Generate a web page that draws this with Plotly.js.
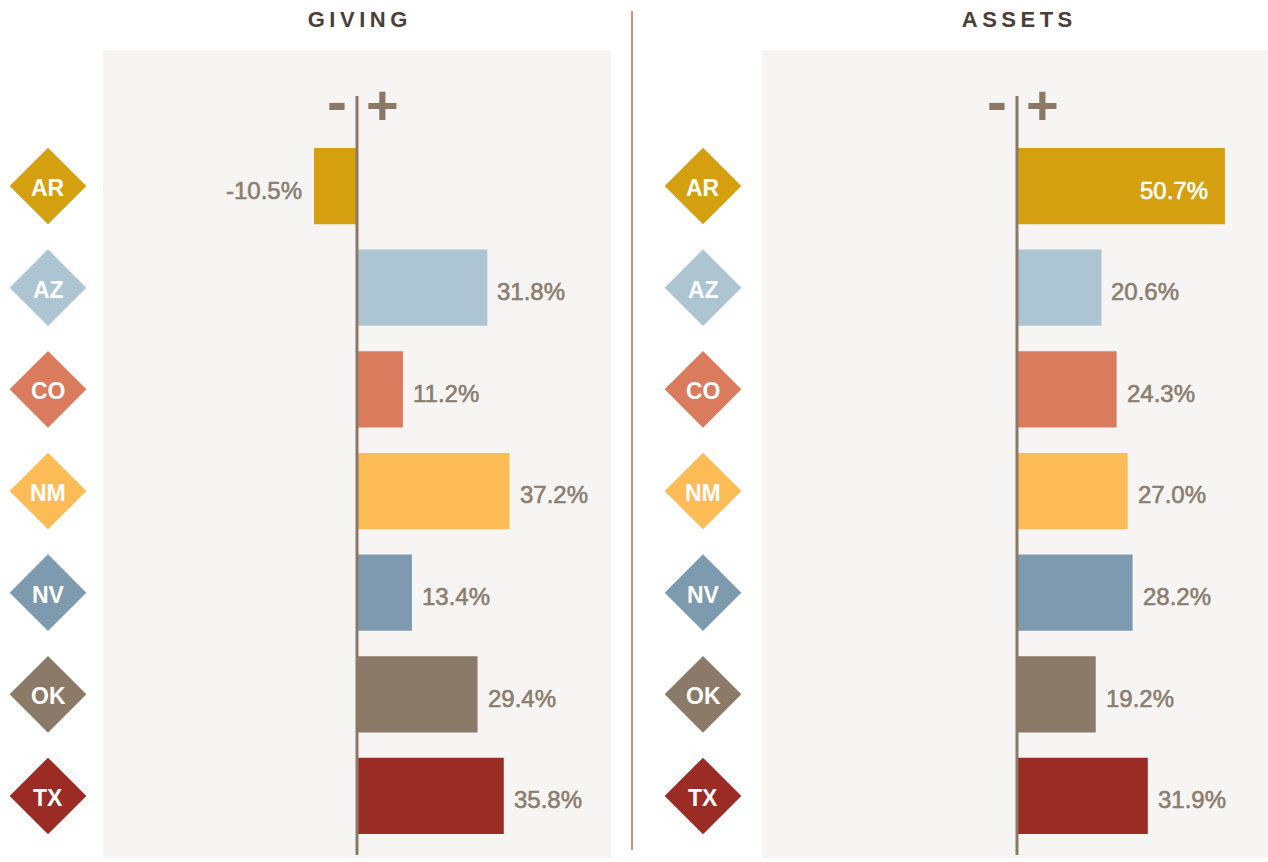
<!DOCTYPE html>
<html>
<head>
<meta charset="utf-8">
<script src="https://cdn.plot.ly/plotly-3.0.1.min.js"></script>
<style>
  html, body { margin: 0; padding: 0; background: #ffffff; }
  #chart { width: 1268px; height: 862px; }
</style>
</head>
<body>
<div id="chart"></div>
<script>
// ---- data ----
const states = ['AR', 'AZ', 'CO', 'NM', 'NV', 'OK', 'TX'];
const givingChange = [-10.5, 31.8, 11.2, 37.2, 13.4, 29.4, 35.8];
const assetsChange = [50.7, 20.6, 24.3, 27.0, 28.2, 19.2, 31.9];
const stateColors = ['#d4a010', '#adc5d3', '#d97b5c', '#fdbc56', '#7e9aae', '#8b7a67', '#9b2b25'];
const panelTitles = ['GIVING', 'ASSETS'];

// ---- style ----
const FONT = '"Liberation Sans", Arial, Helvetica, sans-serif';
const LABEL_COLOR = '#8b7d6f';
const AXIS_COLOR = '#8b7966';
const BG = '#f7f5f3';
const W = 1268, H = 862;
const px = v => v / W;
const py = v => (H - v) / H;

const fmt = v => v.toFixed(1) + '%';

const traces = [
  {
    type: 'bar', orientation: 'h', x: givingChange, y: states,
    xaxis: 'x', yaxis: 'y', width: 0.75,
    marker: { color: stateColors }, hoverinfo: 'none', showlegend: false
  },
  {
    type: 'bar', orientation: 'h', x: assetsChange, y: states,
    xaxis: 'x2', yaxis: 'y', width: 0.75,
    marker: { color: stateColors }, hoverinfo: 'none', showlegend: false
  },
  {
    type: 'scatter', mode: 'markers', x: states.map(() => 0.5), y: states,
    xaxis: 'x3', yaxis: 'y',
    marker: { symbol: 'diamond', size: 59, color: stateColors, line: { width: 0 } },
    hoverinfo: 'none', showlegend: false, cliponaxis: false
  },
  {
    type: 'scatter', mode: 'markers', x: states.map(() => 0.5), y: states,
    xaxis: 'x4', yaxis: 'y',
    marker: { symbol: 'diamond', size: 59, color: stateColors, line: { width: 0 } },
    hoverinfo: 'none', showlegend: false, cliponaxis: false
  }
];

const hiddenAxis = { showgrid: false, zeroline: false, showticklabels: false, ticks: '', showline: false, fixedrange: true };

const annotations = [];
// value labels
function addLabels(values, xref) {
  values.forEach((v, i) => {
    const inside = v > 45;
    annotations.push({
      xref: xref, yref: 'y', x: v, y: states[i],
      text: fmt(v), showarrow: false,
      xanchor: inside ? 'right' : (v < 0 ? 'right' : 'left'),
      xshift: inside ? -15 : (v < 0 ? -10 : 8),
      yshift: -4,
      font: { family: FONT, size: 24, color: inside ? '#ffffff' : LABEL_COLOR }
    });
  });
}
addLabels(givingChange, 'x');
addLabels(assetsChange, 'x2');

// diamond labels
['x3', 'x4'].forEach(xr => {
  states.forEach(st => {
    annotations.push({
      xref: xr, yref: 'y', x: 0.5, y: st, text: st, showarrow: false,
      xanchor: 'center', yanchor: 'middle', yshift: -2,
      font: { family: FONT, size: 23, color: '#ffffff', weight: 'bold' }
    });
  });
});

// titles
annotations.push({
  xref: 'paper', yref: 'paper', x: px(357), y: py(19), text: panelTitles[0],
  showarrow: false, xanchor: 'center', yanchor: 'middle',
  font: { family: FONT, size: 22, color: '#4a4038', weight: 'bold' }
});
annotations.push({
  xref: 'paper', yref: 'paper', x: px(1017), y: py(19), text: panelTitles[1],
  showarrow: false, xanchor: 'center', yanchor: 'middle',
  font: { family: FONT, size: 22, color: '#4a4038', weight: 'bold' }
});

// minus / plus markers around zero line
['x', 'x2'].forEach(xr => {
  annotations.push({
    xref: xr, yref: 'paper', x: 0, y: py(102), text: '-', showarrow: false,
    xanchor: 'right', yanchor: 'middle', xshift: -8,
    font: { family: FONT, size: 60, color: AXIS_COLOR, weight: 'bold' }
  });
  annotations.push({
    xref: xr, yref: 'paper', x: 0, y: py(104), text: '+', showarrow: false,
    xanchor: 'left', yanchor: 'middle', xshift: 7,
    font: { family: FONT, size: 56, color: AXIS_COLOR, weight: 'bold' }
  });
});

const shapes = [
  // panel backgrounds
  { type: 'rect', xref: 'x domain', yref: 'y domain', x0: 0, x1: 1, y0: 0, y1: 1, fillcolor: BG, line: { width: 0 }, layer: 'below' },
  { type: 'rect', xref: 'x2 domain', yref: 'y domain', x0: 0, x1: 1, y0: 0, y1: 1, fillcolor: BG, line: { width: 0 }, layer: 'below' },
  // zero lines
  { type: 'line', xref: 'x', yref: 'paper', x0: 0, x1: 0, y0: py(855), y1: py(96), line: { color: AXIS_COLOR, width: 3 }, layer: 'above' },
  { type: 'line', xref: 'x2', yref: 'paper', x0: 0, x1: 0, y0: py(855), y1: py(96), line: { color: AXIS_COLOR, width: 3 }, layer: 'above' },
  // separator
  { type: 'line', xref: 'paper', yref: 'paper', x0: px(632), x1: px(632), y0: py(850), y1: py(11), line: { color: '#d6694f', width: 1.5 } }
];

const s = 4.1; // px per percentage point
const layout = {
  width: W, height: H,
  margin: { l: 0, r: 0, t: 0, b: 0, pad: 0 },
  paper_bgcolor: '#ffffff', plot_bgcolor: 'rgba(0,0,0,0)',
  showlegend: false,
  xaxis: Object.assign({}, hiddenAxis, { domain: [px(103), px(611)], range: [-(357 - 103) / s, (611 - 357) / s], anchor: 'y' }),
  xaxis2: Object.assign({}, hiddenAxis, { domain: [px(762), 1], range: [-(1017 - 762) / s, (1268 - 1017) / s], anchor: 'y' }),
  xaxis3: Object.assign({}, hiddenAxis, { domain: [0, px(96)], range: [0, 1], anchor: 'y' }),
  xaxis4: Object.assign({}, hiddenAxis, { domain: [px(655), px(751)], range: [0, 1], anchor: 'y' }),
  yaxis: Object.assign({}, hiddenAxis, {
    type: 'category', categoryorder: 'array', categoryarray: states,
    domain: [py(858), py(50)], range: [6.61, -1.338]
  }),
  annotations: annotations,
  shapes: shapes
};

Plotly.newPlot('chart', traces, layout, { staticPlot: true, displayModeBar: false }).then(() => {
  const valueTexts = new Set(givingChange.concat(assetsChange).map(fmt));
  document.querySelectorAll('.annotation-text').forEach(t => {
    const txt = t.textContent;
    if (panelTitles.indexOf(txt) >= 0) {
      t.setAttribute('letter-spacing', '4.5px');
      t.setAttribute('dx', '2.25');
    } else if (valueTexts.has(txt)) {
      const fill = t.style.fill || LABEL_COLOR;
      t.style.stroke = fill;
      t.style.strokeWidth = '0.6px';
    }
  });
});
</script>
</body>
</html>
